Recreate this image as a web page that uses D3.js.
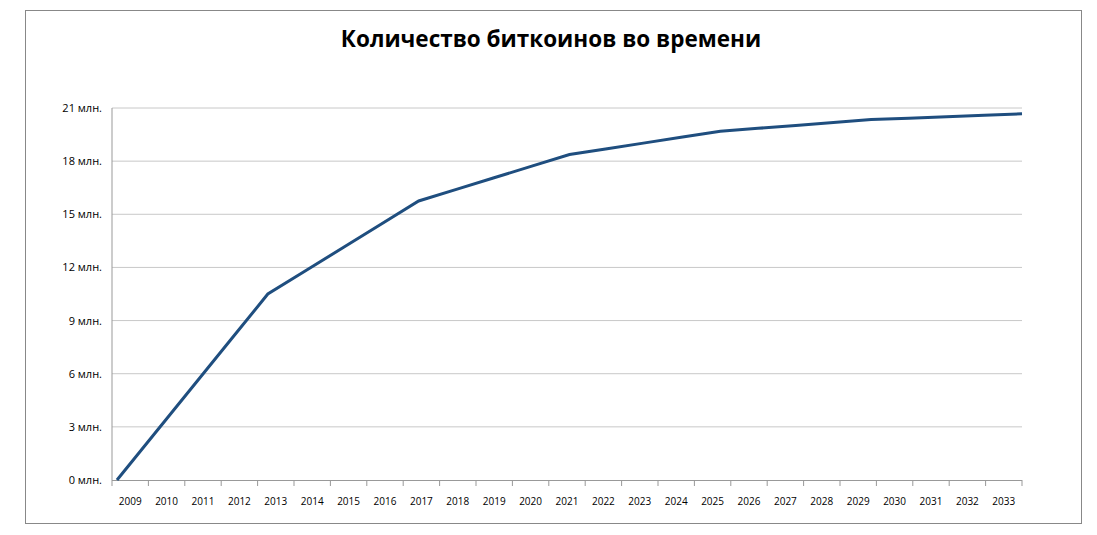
<!DOCTYPE html>
<html><head><meta charset="utf-8">
<script src="https://cdn.jsdelivr.net/npm/d3@7"></script>
<style>body{margin:0;background:#fff;font-family:"Open Sans","Liberation Sans",sans-serif}</style>
</head><body><svg id="c" width="1097" height="535"></svg>
<script>
const years = d3.range(2009, 2034);
const yearLabels = years.map(String);
const coins = [0,2.625,5.25,7.875,10.5,11.8125,13.125,14.4375,15.75,16.40625,17.0625,17.71875,18.375,18.703,19.031,19.359,19.6875,19.852,20.016,20.180,20.344,20.426,20.508,20.590,20.672];
const yTicks = [0,3,6,9,12,15,18,21];
const title = "Количество биткоинов во времени";

const svg = d3.select("#c");
svg.append("rect").attr("x",25.5).attr("y",10.5).attr("width",1056).attr("height",513).attr("fill","none").attr("stroke","#888");
svg.append("text").attr("x",551).attr("y",47).attr("text-anchor","middle").attr("font-size",22.5).attr("font-weight","bold").text(title);

const L=112,R=1022,T=108,B=480;
const y=d3.scaleLinear().domain([0,21]).range([B,T]);
const band=d3.scaleBand().domain(yearLabels).range([L,R]);
const x=d3.scaleLinear().domain([2009,2033]).range([117,1022]);

svg.append("g").selectAll("line").data(yTicks.slice(1)).join("line")
  .attr("x1",L).attr("x2",R).attr("y1",d=>y(d)).attr("y2",d=>y(d)).attr("stroke","#c8c8c8");
svg.append("g").selectAll("text").data(yTicks).join("text")
  .attr("x",L-10).attr("y",d=>y(d)+4).attr("text-anchor","end").attr("font-size",11).text(d=>d+" млн.");
svg.append("line").attr("x1",L).attr("x2",L).attr("y1",T).attr("y2",B).attr("stroke","#999");
svg.append("line").attr("x1",L).attr("x2",R).attr("y1",B+0.5).attr("y2",B+0.5).attr("stroke","#999");
svg.append("g").selectAll("line").data(yearLabels.concat(["end"])).join("line")
  .attr("x1",(d,i)=>L+i*band.bandwidth()).attr("x2",(d,i)=>L+i*band.bandwidth())
  .attr("y1",B).attr("y2",B+6).attr("stroke","#999");
svg.append("g").selectAll("text").data(yearLabels).join("text")
  .attr("x",d=>band(d)+band.bandwidth()/2).attr("y",B+25).attr("text-anchor","middle").attr("font-size",10).text(d=>d);

svg.append("path").datum(coins).attr("fill","none").attr("stroke","#1f4e7f").attr("stroke-width",3)
  .attr("d",d3.line().x((d,i)=>x(years[i])).y(d=>y(d)));
</script></body></html>
